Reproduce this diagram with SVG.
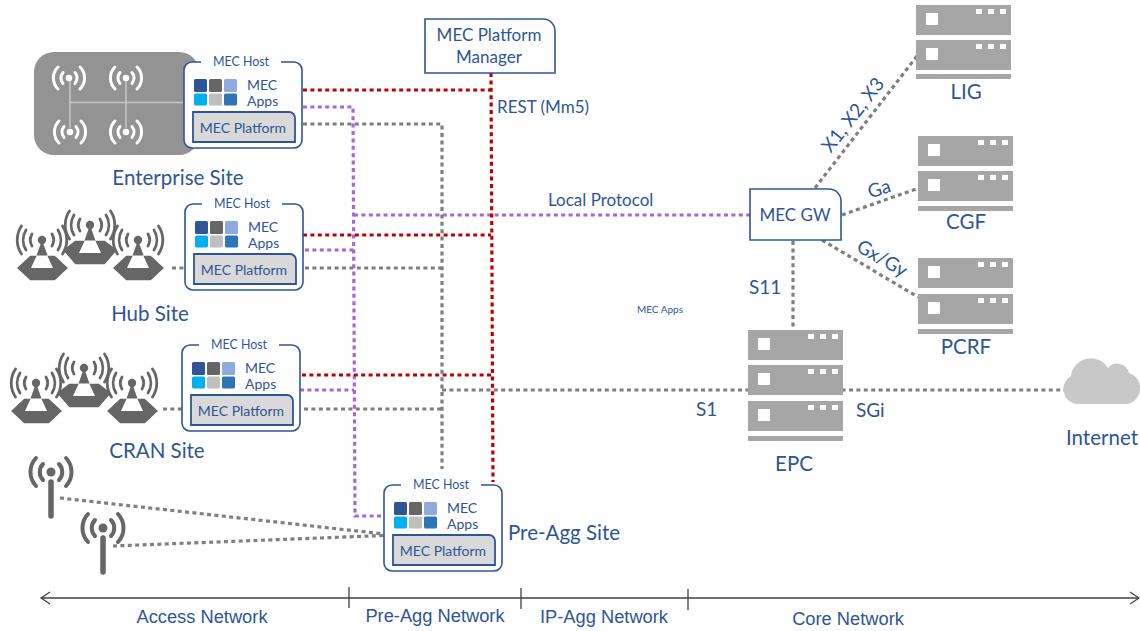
<svg xmlns="http://www.w3.org/2000/svg" width="1140" height="631" viewBox="0 0 1140 631">
<style>
text{font-family:"Lato","Open Sans","Liberation Sans",sans-serif;fill:#2f5597}
.t19{font-size:20.500px}.t17{font-size:19px}.t16{font-size:17px}.t14{font-size:14px}.t12{font-size:12.400px}
.m{text-anchor:middle}
.ax{font-family:"Liberation Sans",Arial,sans-serif;font-size:18.300px;text-anchor:middle}
.c{fill:none;stroke-width:3.2;stroke-dasharray:4 3.4}
.r{stroke:#c00000}.p{stroke:#a866d8}.g{stroke:#7f7f7f}
.b{fill:#fff;stroke:#2f5597;stroke-width:1.6}
.pf{fill:#d9d9d9;stroke:#2f5597;stroke-width:1.8}
.s{fill:#a6a6a6}.w{fill:#fff}
.tw{fill:none;stroke:#666;stroke-width:2.800;stroke-linecap:round}
.ww{fill:none;stroke:#fff;stroke-width:3;stroke-linecap:round}
.hx{fill:#666;stroke:#fff;stroke-width:1.500}
</style>
<defs>
<g id="apps">
<rect x="0" y="0" width="13" height="13" rx="1.5" fill="#2f5597"/><rect x="15" y="0" width="13" height="13" rx="1.5" fill="#666"/><rect x="30" y="0" width="13" height="13" rx="1.5" fill="#8faadc"/>
<rect x="0" y="14.500" width="13" height="12" rx="1.5" fill="#00b0f0"/><rect x="15" y="14.500" width="13" height="12" rx="1.500" fill="#bfbfbf"/><rect x="30" y="14.500" width="13" height="12" rx="1.500" fill="#2e75b6"/>
</g>
<g id="frame">
<path class="b" d="M97 0H110A8 8 0 0 1 118 8V78A8 8 0 0 1 110 86H8A8 8 0 0 1 0 78V8A8 8 0 0 1 8 0H17"/>
<path class="pf" d="M9 50H105A6 6 0 0 1 111 56V80H9Z"/>
<use href="#apps" x="10" y="17"/>
</g>
<g id="srv">
<rect class="s" width="95" height="30"/><rect class="w" x="10" y="8" width="12" height="12"/>
<rect class="w" x="60" y="4" width="6" height="5"/><rect class="w" x="72" y="4" width="6" height="5"/><rect class="w" x="84" y="4" width="6" height="5"/>
</g>
<rect id="base" class="s" width="95" height="5"/>
<g id="mast">
<path d="M-5 15H5L11 28H-11Z" fill="#fff"/>
<path d="M0 0L-5.500 15.500H5.500Z" fill="#666"/><circle r="4.200" fill="#666"/>
<path class="tw" d="M-10 -6A12 12 0 0 0 -10 6M10 -6A12 12 0 0 1 10 6M-16 -10A19 19 0 0 0 -16 10M16 -10A19 19 0 0 1 16 10M-20.500 -14A25 25 0 0 0 -20.500 14M20.500 -14A25 25 0 0 1 20.500 14"/>
</g>
<g id="cell">
<path class="hx" d="M-12 15H13L27 28 13 41H-12L-26 28Z"/>
<use href="#mast"/>
</g>
<g id="cell-back">
<path class="hx" d="M-15 15H15L28 25 15 40H-15L-28 25Z"/>
<use href="#mast"/>
</g>
<g id="wifi"><circle r="3.300" fill="#fff"/><path class="ww" d="M-6 -5.500A8.500 8.500 0 0 0 -6 5.500M6 -5.500A8.500 8.500 0 0 1 6 5.500M-11 -11A15.500 15.500 0 0 0 -11 11M11 -11A15.500 15.500 0 0 1 11 11"/></g>
<g id="ant"><circle r="4.500" fill="#666"/><path d="M0 10V44" fill="none" stroke="#666" stroke-width="5.500" stroke-linecap="round"/><path fill="none" stroke="#666" stroke-width="4" stroke-linecap="round" d="M-8 -8A11.500 11.500 0 0 0 -8 8M8 -8A11.500 11.500 0 0 1 8 8M-15 -14A20.500 20.500 0 0 0 -15 14M15 -14A20.500 20.500 0 0 1 15 14"/></g>
</defs>

<g id="connectors">
<path class="c g" d="M172 268H184M163 409H182"/>
<path class="c g" d="M60 498L384 534M113 546L384 535.500"/>
<path class="c g" d="M303 124H442V469M305 268H442M304 409H442"/>
<path class="c g" d="M442 390H1065"/>
<path class="c g" d="M793 241V328M815 188L917 56M842 215L919 188M822 240L918 297"/>
<path class="c p" d="M303 107H353L355 516H384"/>
<path class="c p" d="M354 215H750M305 250H354M300 390H354"/>
<path class="c r" d="M491 73L493 482"/>
<path class="c r" d="M303 90H491M303 235H491M302 375H492"/>
</g>

<g id="enterprise-site">
<rect x="34" y="52" width="165" height="103" rx="20" fill="#939393"/>
<path d="M70 78V128M126 78V128M70 102.500H186" fill="none" stroke="#c8c8c8" stroke-width="1.500"/>
<use href="#wifi" x="69" y="78"/><use href="#wifi" x="126" y="78"/><use href="#wifi" x="70" y="132"/><use href="#wifi" x="126" y="132"/>
<text class="t19 m" x="178" y="185">Enterprise Site</text>
</g>
<g id="host-enterprise" transform="translate(184 62)">
<use href="#frame"/>
<text class="t12 m" x="57" y="3.500">MEC Host</text><text class="t14" x="63" y="28">MEC</text><text class="t14" x="63" y="44">Apps</text><text class="t14 m" x="59" y="71">MEC Platform</text>
</g>
<g id="hub-site">
<use href="#cell-back" x="90" y="225"/><use href="#cell" x="42" y="240"/><use href="#cell" x="138" y="240"/>
<text class="t19 m" x="150" y="321">Hub Site</text>
</g>
<g id="host-hub" transform="translate(185 204)">
<use href="#frame"/>
<text class="t12 m" x="57" y="3.500">MEC Host</text><text class="t14" x="63" y="28">MEC</text><text class="t14" x="63" y="44">Apps</text><text class="t14 m" x="59" y="71">MEC Platform</text>
</g>
<g id="cran-site">
<use href="#cell-back" x="84" y="368"/><use href="#cell" x="36" y="383"/><use href="#cell" x="132" y="383"/>
<text class="t19 m" x="157" y="458">CRAN Site</text>
</g>
<g id="host-cran" transform="translate(182 345)">
<use href="#frame"/>
<text class="t12 m" x="57" y="3.500">MEC Host</text><text class="t14" x="63" y="28">MEC</text><text class="t14" x="63" y="44">Apps</text><text class="t14 m" x="59" y="71">MEC Platform</text>
</g>
<g id="antenna-1"><use href="#ant" x="51" y="472"/></g>
<g id="antenna-2"><use href="#ant" x="103" y="528"/></g>
<g id="host-preagg" transform="translate(384 485)">
<use href="#frame"/>
<text class="t12 m" x="57" y="3.500">MEC Host</text><text class="t14" x="63" y="28">MEC</text><text class="t14" x="63" y="44">Apps</text><text class="t14 m" x="59" y="71">MEC Platform</text>
</g>
<text class="t19" x="508" y="540">Pre-Agg Site</text>

<g id="platform-manager">
<path class="b" d="M425 19H543A12 12 0 0 1 555 31V73H425Z"/>
<text class="t16 m" x="489" y="41">MEC Platform</text><text class="t16 m" x="489" y="63">Manager</text>
</g>
<g id="mec-gw">
<path class="b" d="M750 189H829A12 12 0 0 1 841 201V240H750Z"/>
<text class="t16 m" x="795" y="221">MEC GW</text>
</g>
<g id="lig">
<use href="#srv" x="916" y="5"/><use href="#srv" x="916" y="40"/><use href="#base" x="916" y="74"/>
<text class="t19 m" x="966" y="99">LIG</text>
</g>
<g id="cgf">
<use href="#srv" x="918" y="136"/><use href="#srv" x="918" y="171"/><use href="#base" x="918" y="206"/>
<text class="t19 m" x="966" y="229">CGF</text>
</g>
<g id="pcrf">
<use href="#srv" x="918" y="258"/><use href="#srv" x="918" y="294"/><use href="#base" x="918" y="329"/>
<text class="t19 m" x="966" y="354">PCRF</text>
</g>
<g id="epc">
<use href="#srv" x="748" y="330"/><use href="#srv" x="748" y="365"/><use href="#srv" x="748" y="401"/><use href="#base" x="748" y="436"/>
<text class="t19 m" x="794" y="471">EPC</text>
</g>
<g id="internet">
<path d="M1077 404A15 15 0 0 1 1071 376A20 20 0 0 1 1108 368A12 12 0 0 1 1129 373A16 16 0 0 1 1127 404Z" fill="#c8c8c8"/>
<text class="t19 m" x="1102" y="445">Internet</text>
</g>

<g id="labels">
<text class="t16" x="497" y="113">REST (Mm5)</text>
<text class="t16" x="548" y="206">Local Protocol</text>
<text class="m" x="660" y="313" font-size="10">MEC Apps</text>
<text class="t17" x="749" y="294">S11</text>
<text class="t17" x="856" y="417">SGi</text>
<text class="t17" x="696" y="416">S1</text>
<text class="t17 m" transform="translate(858 119) rotate(-52)" x="0" y="0">X1, X2, X3</text>
<text class="t17 m" transform="translate(881 195) rotate(-17)" x="0" y="0">Ga</text>
<text class="t17 m" transform="translate(879 264) rotate(30)" x="0" y="0">Gx/Gy</text>
</g>

<g id="axis" fill="none" stroke="#404040">
<path d="M41 598H1139" stroke-width="1.300"/>
<path d="M50 592L41 598 50 604M1130 592L1139 598 1130 604" stroke-width="1.300"/>
<path d="M349 587V608M521 588V609M688 589V610" stroke-width="1.300"/>
</g>
<g id="axis-labels">
<text class="ax" x="202" y="623">Access Network</text>
<text class="ax" x="435" y="622">Pre-Agg Network</text>
<text class="ax" x="604" y="623">IP-Agg Network</text>
<text class="ax" x="848" y="625">Core Network</text>
</g>
</svg>
